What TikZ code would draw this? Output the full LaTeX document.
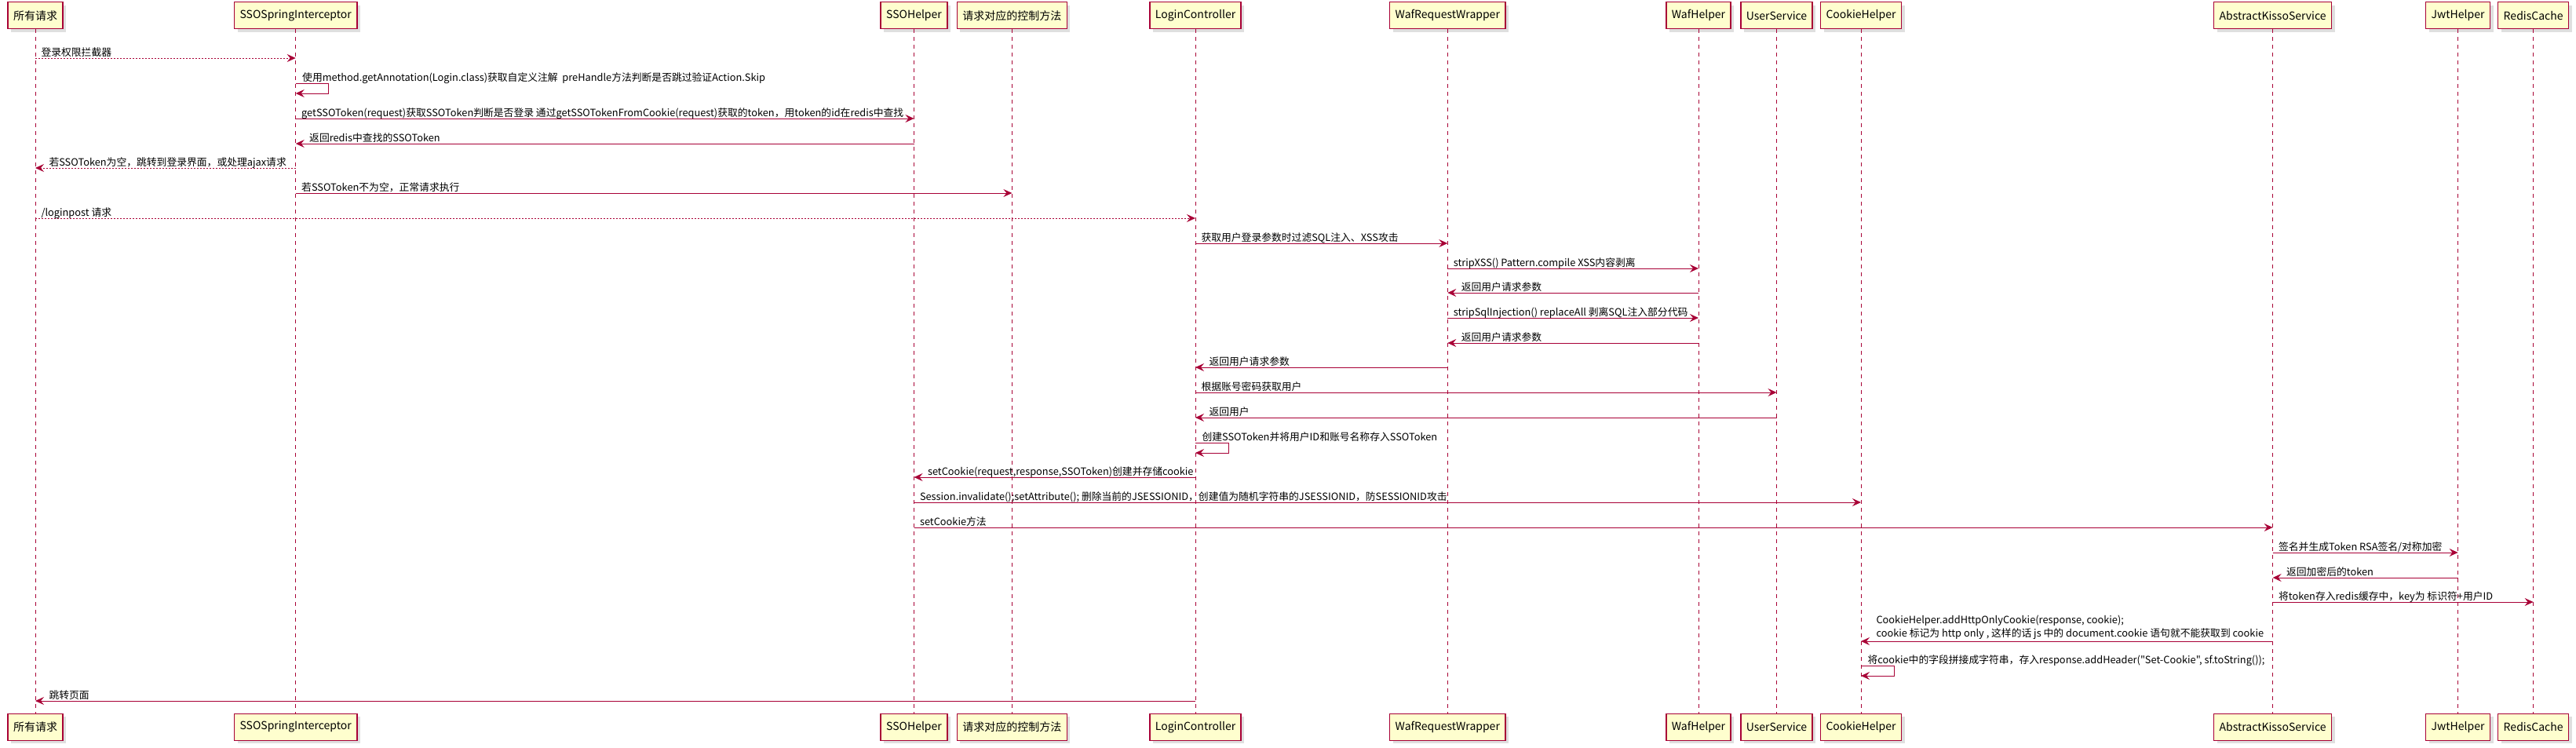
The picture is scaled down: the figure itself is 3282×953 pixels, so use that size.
\documentclass[tikz,border=0pt]{standalone}
\usepackage{fontspec}
\setmainfont{Noto Sans CJK SC}[Ligatures=TeXOff]
\usetikzlibrary{arrows.meta,shadows}
\definecolor{umlred}{HTML}{A80036}
\definecolor{umlbox}{HTML}{FEFECE}

\begin{document}
\begin{tikzpicture}[x=1pt,y=-1pt,
	actor/.style={draw=umlred, fill=umlbox, line width=1.5pt, inner xsep=7pt, minimum height=34pt,
		font=\fontsize{14}{16}\selectfont, drop shadow={shadow xshift=4pt, shadow yshift=-4pt, opacity=0.25}},
	lifeline/.style={umlred, line width=1pt, dash pattern=on 5pt off 5pt},
	msg/.style={umlred, line width=1pt, -{Stealth[length=11pt,width=10pt,inset=4pt]}},
	reply/.style={msg, dash pattern=on 2pt off 2pt},
	txt/.style={anchor=base west, inner sep=0pt, text=black, font=\fontsize{12.8}{17}\selectfont},
	fwd/.style={txt, at start, xshift=7pt, yshift=3pt},
	back/.style={txt, at end, xshift=17pt, yshift=3pt}]
			\useasboundingbox (0,0) rectangle (3282,953);
			% Teilnehmer oben
			\node[actor] (all) at (45,19.7) {所有请求};
			\node[actor] (interceptor) at (376.7,19.7) {SSOSpringInterceptor};
			\node[actor] (ssohelper) at (1164.5,19.7) {SSOHelper};
			\node[actor] (ctrl) at (1289.4,19.7) {请求对应的控制方法};
			\node[actor] (login) at (1523,19.7) {LoginController};
			\node[actor] (waf) at (1844.3,19.7) {WafRequestWrapper};
			\node[actor] (wafhelper) at (2164,19.7) {WafHelper};
			\node[actor] (usersvc) at (2263.5,19.7) {UserService};
			\node[actor] (cookie) at (2371,19.7) {CookieHelper};
			\node[actor] (kisso) at (2895.6,19.7) {AbstractKissoService};
			\node[actor] (jwt) at (3131.6,19.7) {JwtHelper};
			\node[actor] (redis) at (3227.6,19.7) {RedisCache};
			% Teilnehmer unten
			\node[actor] (allb) at (45,926.3) {所有请求};
			\node[actor] (interceptorb) at (376.7,926.3) {SSOSpringInterceptor};
			\node[actor] (ssohelperb) at (1164.5,926.3) {SSOHelper};
			\node[actor] (ctrlb) at (1289.4,926.3) {请求对应的控制方法};
			\node[actor] (loginb) at (1523,926.3) {LoginController};
			\node[actor] (wafb) at (1844.3,926.3) {WafRequestWrapper};
			\node[actor] (wafhelperb) at (2164,926.3) {WafHelper};
			\node[actor] (usersvcb) at (2263.5,926.3) {UserService};
			\node[actor] (cookieb) at (2371,926.3) {CookieHelper};
			\node[actor] (kissob) at (2895.6,926.3) {AbstractKissoService};
			\node[actor] (jwtb) at (3131.6,926.3) {JwtHelper};
			\node[actor] (redisb) at (3227.6,926.3) {RedisCache};
			% Lebenslinien
			\draw[lifeline] (all) -- (allb);
			\draw[lifeline] (interceptor) -- (interceptorb);
			\draw[lifeline] (ssohelper) -- (ssohelperb);
			\draw[lifeline] (ctrl) -- (ctrlb);
			\draw[lifeline] (login) -- (loginb);
			\draw[lifeline] (waf) -- (wafb);
			\draw[lifeline] (wafhelper) -- (wafhelperb);
			\draw[lifeline] (usersvc) -- (usersvcb);
			\draw[lifeline] (cookie) -- (cookieb);
			\draw[lifeline] (kisso) -- (kissob);
			\draw[lifeline] (jwt) -- (jwtb);
			\draw[lifeline] (redis) -- (redisb);
			% Interceptor
			\draw[reply] (all |- 0,74) -- (interceptor |- 0,74) node[fwd] (m1) {登录权限拦截器};
			\draw[msg] (interceptor |- 0,106) node[txt, xshift=8pt, yshift=3pt] (m2) {使用method.getAnnotation(Login.class)获取自定义注解\ \ preHandle方法判断是否跳过验证Action.Skip}
				-- ++(42,0) -- ++(0,13) -- (interceptor |- 0,119);
			\draw[msg] (interceptor |- 0,151) -- (ssohelper |- 0,151) node[fwd] (m3) {getSSOToken(request)获取SSOToken判断是否登录 通过getSSOTokenFromCookie(request)获取的token，用token的id在redis中查找};
			\draw[msg] (ssohelper |- 0,183) -- (interceptor |- 0,183) node[back] (m4) {返回redis中查找的SSOToken};
			\draw[reply] (interceptor |- 0,214) -- (all |- 0,214) node[back] (m5) {若SSOToken为空，跳转到登录界面，或处理ajax请求};
			\draw[msg] (interceptor |- 0,246) -- (ctrl |- 0,246) node[fwd] (m6) {若SSOToken不为空，正常请求执行};
			% Login
			\draw[reply] (all |- 0,278) -- (login |- 0,278) node[fwd] (m7) {/loginpost 请求};
			\draw[msg] (login |- 0,310) -- (waf |- 0,310) node[fwd] (m8) {获取用户登录参数时过滤SQL注入、XSS攻击};
			\draw[msg] (waf |- 0,342) -- (wafhelper |- 0,342) node[fwd] (m9) {stripXSS() Pattern.compile XSS内容剥离};
			\draw[msg] (wafhelper |- 0,373) -- (waf |- 0,373) node[back] (m10) {返回用户请求参数};
			\draw[msg] (waf |- 0,405) -- (wafhelper |- 0,405) node[fwd] (m11) {stripSqlInjection() replaceAll 剥离SQL注入部分代码};
			\draw[msg] (wafhelper |- 0,437) -- (waf |- 0,437) node[back] (m12) {返回用户请求参数};
			\draw[msg] (waf |- 0,468) -- (login |- 0,468) node[back] (m13) {返回用户请求参数};
			\draw[msg] (login |- 0,500) -- (usersvc |- 0,500) node[fwd] (m14) {根据账号密码获取用户};
			\draw[msg] (usersvc |- 0,532) -- (login |- 0,532) node[back] (m15) {返回用户};
			\draw[msg] (login |- 0,564) node[txt, xshift=8pt, yshift=3pt] (m16) {创建SSOToken并将用户ID和账号名称存入SSOToken}
				-- ++(42,0) -- ++(0,13) -- (login |- 0,577);
			% Cookie
			\draw[msg] (login |- 0,608) -- (ssohelper |- 0,608) node[back] (m17) {setCookie(request,response,SSOToken)创建并存储cookie};
			\draw[msg] (ssohelper |- 0,640) -- (cookie |- 0,640) node[fwd] (m18) {Session.invalidate();setAttribute(); 删除当前的JSESSIONID，创建值为随机字符串的JSESSIONID，防SESSIONID攻击};
			\draw[msg] (ssohelper |- 0,672) -- (kisso |- 0,672) node[fwd] (m19) {setCookie方法};
			\draw[msg] (kisso |- 0,704) -- (jwt |- 0,704) node[fwd] (m20) {签名并生成Token RSA签名/对称加密};
			\draw[msg] (jwt |- 0,736) -- (kisso |- 0,736) node[back] (m21) {返回加密后的token};
			\draw[msg] (kisso |- 0,767) -- (redis |- 0,767) node[fwd] (m22) {将token存入redis缓存中，key为 标识符+用户ID};
			\draw[msg] (kisso |- 0,817) -- (cookie |- 0,817) node[back, anchor=south west, align=left, xshift=2pt, yshift=-1pt] (m23)
				{CookieHelper.addHttpOnlyCookie(response, cookie);\\ cookie 标记为 http only , 这样的话 js 中的 document.cookie 语句就不能获取到 cookie};
			\draw[msg] (cookie |- 0,848) node[txt, xshift=8pt, yshift=3pt] (m24) {将cookie中的字段拼接成字符串，存入response.addHeader("Set-Cookie", sf.toString());}
				-- ++(42,0) -- ++(0,13) -- (cookie |- 0,861);
			\draw[msg] (login |- 0,893) -- (all |- 0,893) node[back] (m25) {跳转页面};
	\end{tikzpicture}
\end{document}
